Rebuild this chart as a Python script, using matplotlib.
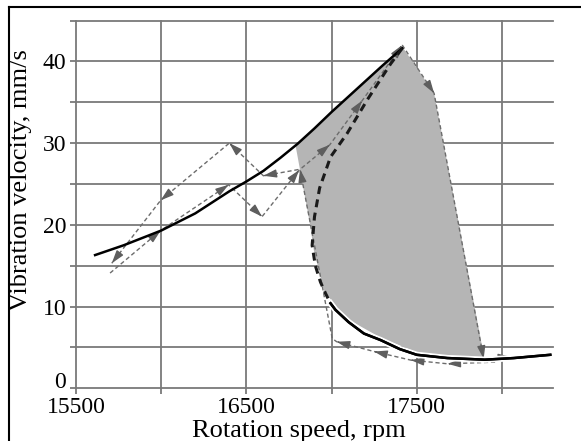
import matplotlib
matplotlib.use("Agg")
import matplotlib.pyplot as plt
import matplotlib.patheffects as pe
from matplotlib.lines import Line2D
from matplotlib.ticker import MultipleLocator

# данные (об/мин, мм/с)
upper_x = [15612, 15780, 16000, 16200, 16400, 16500, 16600, 16700, 16800, 16900, 17000,
           17100, 17200, 17300, 17415]
upper_y = [16.3, 17.5, 19.3, 21.4, 24.1, 25.3, 26.6, 28.2, 29.9, 31.8, 33.8,
           35.7, 37.6, 39.5, 41.6]

lower_x = [16994, 17023, 17100, 17190, 17288, 17400, 17500, 17680, 17900, 18070, 18284]
lower_y = [10.4, 9.6, 8.1, 6.7, 5.9, 4.8, 4.1, 3.7, 3.5, 3.7, 4.1]

unstable_x = [17415, 17347, 17210, 17092, 16994, 16930, 16900, 16886, 16905, 16935, 16965, 16994]
unstable_y = [41.6, 39.7, 35.3, 31.2, 28.3, 24.5, 21.0, 17.5, 15.0, 13.0, 11.6, 10.4]

# зона скачка (серая область)
zone_x = [16788, 16900, 17000, 17200, 17415, 17602, 17896, 17680, 17500, 17288, 17100, 17023,
          16994, 16955, 16896, 16876]
zone_y = [29.8, 31.8, 33.8, 37.6, 41.8, 36.1, 3.8, 4.0, 4.4, 6.2, 8.4, 9.9,
          10.9, 12.0, 16.9, 19.8]

# разгон
run_up_x = [15700, 15997, 16396, 16592, 16810, 16990, 17180, 17415]
run_up_y = [14.1, 19.3, 24.9, 21.0, 26.7, 29.8, 35.2, 42.0]

# срыв после пика
drop_x = [17415, 17602, 17893, 18055]
drop_y = [42.0, 36.1, 3.6, 3.85]

# выбег
run_down_x = [17960, 17680, 17465, 17250, 17030, 17004, 16815, 16600, 16400, 15997, 15710]
run_down_y = [3.2, 3.0, 3.45, 4.5, 5.7, 6.1, 26.8, 26.0, 30.0, 23.0, 15.3]

x_ticks = [15500, 16500, 17500]
y_ticks = [0, 10, 20, 30, 40]

W, H = 581, 441
fig = plt.figure(figsize=(W / 100, H / 100), dpi=100)
ax = fig.add_axes([76 / W, (H - 388.3) / H, (553 - 76) / W, (388.3 - 20.5) / H])

ax.set_xlim(15500, 18300)
ax.set_ylim(0, 45)

gray_line = '#7a7a7a'
dash_style = dict(color='#6c6c6c', lw=1.0, linestyle=(0, (3, 2)), zorder=4)


def draw_path(xs, ys, skip=()):
    ax.plot(xs, ys, **dash_style)
    for i in range(1, len(xs)):
        if i in skip:
            continue
        x0, y0 = xs[i - 1], ys[i - 1]
        x1, y1 = xs[i], ys[i]
        ax.annotate('', xy=(x1, y1), xytext=(x1 - 0.05 * (x1 - x0), y1 - 0.05 * (y1 - y0)),
                    arrowprops=dict(arrowstyle='-|>,head_length=0.7,head_width=0.22',
                                    color='#5e5e5e', lw=1.0, shrinkA=0, shrinkB=0,
                                    mutation_scale=11),
                    zorder=5)


ax.fill(zone_x, zone_y, color='#b5b5b5', lw=0, zorder=1)

ax.plot(upper_x, upper_y, color='black', lw=1.8, zorder=6)
ax.plot(lower_x, lower_y, color='black', lw=1.8, zorder=6,
        path_effects=[pe.withStroke(linewidth=4.5, foreground='white'), pe.Normal()])
ax.plot(unstable_x, unstable_y, color='#1a1a1a', lw=2.2, linestyle=(0, (2.6, 1.8)), zorder=6)

draw_path(run_up_x, run_up_y)
draw_path(drop_x, drop_y)
draw_path(run_down_x, run_down_y, skip=(5,))

# сетка и подписи осей
ax.xaxis.set_major_locator(plt.FixedLocator(x_ticks))
ax.xaxis.set_minor_locator(MultipleLocator(500))
ax.yaxis.set_major_locator(plt.FixedLocator(y_ticks))
ax.yaxis.set_minor_locator(MultipleLocator(5))
ax.grid(which='both', color=gray_line, lw=1.3, zorder=0)
ax.set_axisbelow(True)
for s in ax.spines.values():
    s.set_visible(False)
ax.tick_params(which='both', length=4, width=1.3, color=gray_line, pad=3,
               labelsize=17)
ax.tick_params(axis='x', pad=2)
ax.set_xticklabels([str(t) for t in x_ticks], family='Liberation Serif')
ax.set_yticklabels([str(t) for t in y_ticks], family='Liberation Serif')
ax.get_yticklabels()[0].set_verticalalignment('baseline')

fig.text(298.5 / W, 1 - 437 / H, 'Rotation speed, rpm', ha='center', va='baseline',
         fontsize=19, family='Liberation Serif')
fig.text(21 / W, 1 - 180.5 / H, 'Vibration velocity, mm/s', ha='center', va='center',
         rotation=90, fontsize=19, family='Liberation Serif')

# рамка сверху и слева
fig.add_artist(Line2D([9 / W, 1], [1 - 7 / H, 1 - 7 / H], color='black', lw=1.5))
fig.add_artist(Line2D([9 / W, 9 / W], [0, 1 - 7 / H], color='black', lw=1.5))

fig.canvas.draw()
for axis in (ax.xaxis, ax.yaxis):
    for t in axis.get_major_ticks() + axis.get_minor_ticks():
        t.gridline.set_clip_on(False)

fig.savefig('out.png', dpi=100)
